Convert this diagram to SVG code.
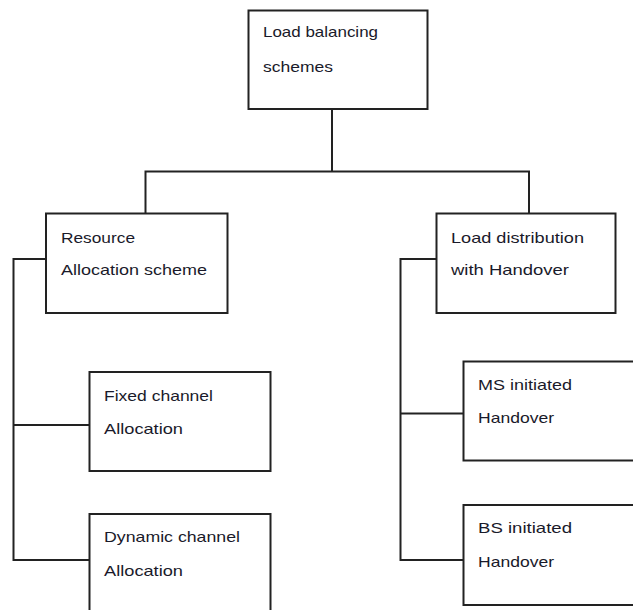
<svg xmlns="http://www.w3.org/2000/svg" width="633" height="610" viewBox="0 0 633 610">
  <style>
    .box { fill: #ffffff; stroke: #222222; stroke-width: 2; }
    .wire { fill: none; stroke: #222222; stroke-width: 2; }
    .lbl { font-family: "Liberation Sans", Arial, sans-serif; font-size: 15px; fill: #1a1a2a; }
  </style>
  <rect width="633" height="610" fill="#ffffff"/>

  <!-- tree connectors -->
  <g id="connectors">
    <polyline class="wire" points="332,109 332,171.5"/>
    <polyline class="wire" points="145.5,213.5 145.5,171.5 529,171.5 529,213.5"/>
    <polyline class="wire" points="46,259 13.5,259 13.5,560 89.5,560"/>
    <polyline class="wire" points="13.5,425 89.5,425"/>
    <polyline class="wire" points="436.5,259 400.5,259 400.5,560 463.5,560"/>
    <polyline class="wire" points="400.5,413.5 463.5,413.5"/>
  </g>

  <g id="root">
    <rect class="box" x="248.5" y="10.5" width="179" height="98.5"/>
    <text class="lbl" x="263" y="37" textLength="115" lengthAdjust="spacingAndGlyphs">Load balancing</text>
    <text class="lbl" x="263" y="72" textLength="70" lengthAdjust="spacingAndGlyphs">schemes</text>
  </g>

  <g id="resource-allocation">
    <rect class="box" x="46" y="213.5" width="181.5" height="99.5"/>
    <text class="lbl" x="61" y="243" textLength="74" lengthAdjust="spacingAndGlyphs">Resource</text>
    <text class="lbl" x="61" y="275" textLength="146" lengthAdjust="spacingAndGlyphs">Allocation scheme</text>
  </g>

  <g id="load-distribution">
    <rect class="box" x="436.5" y="213.5" width="179" height="99.5"/>
    <text class="lbl" x="451" y="243" textLength="133" lengthAdjust="spacingAndGlyphs">Load distribution</text>
    <text class="lbl" x="451" y="275" textLength="118" lengthAdjust="spacingAndGlyphs">with Handover</text>
  </g>

  <g id="fixed-channel">
    <rect class="box" x="89.5" y="372" width="181" height="99"/>
    <text class="lbl" x="104" y="401" textLength="109" lengthAdjust="spacingAndGlyphs">Fixed channel</text>
    <text class="lbl" x="104" y="434" textLength="79" lengthAdjust="spacingAndGlyphs">Allocation</text>
  </g>

  <g id="dynamic-channel">
    <rect class="box" x="89.5" y="514" width="181" height="110"/>
    <text class="lbl" x="104" y="542" textLength="136" lengthAdjust="spacingAndGlyphs">Dynamic channel</text>
    <text class="lbl" x="104" y="576" textLength="79" lengthAdjust="spacingAndGlyphs">Allocation</text>
  </g>

  <g id="ms-initiated">
    <rect class="box" x="463.5" y="361.5" width="180" height="99"/>
    <text class="lbl" x="478" y="390" textLength="94" lengthAdjust="spacingAndGlyphs">MS initiated</text>
    <text class="lbl" x="478" y="423" textLength="76" lengthAdjust="spacingAndGlyphs">Handover</text>
  </g>

  <g id="bs-initiated">
    <rect class="box" x="463.5" y="505" width="180" height="100"/>
    <text class="lbl" x="478" y="533" textLength="94" lengthAdjust="spacingAndGlyphs">BS initiated</text>
    <text class="lbl" x="478" y="567" textLength="76" lengthAdjust="spacingAndGlyphs">Handover</text>
  </g>
</svg>
